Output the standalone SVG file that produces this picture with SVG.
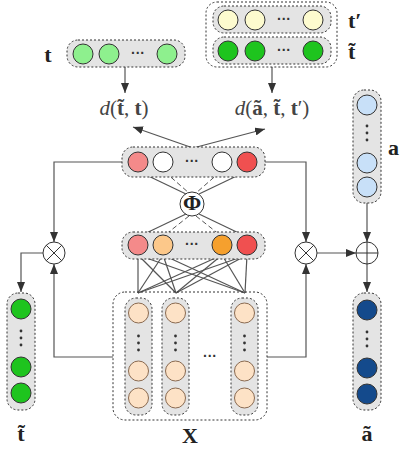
<svg xmlns="http://www.w3.org/2000/svg" width="401" height="449" viewBox="0 0 401 449">
<style>
.box{fill:#e4e4e4;stroke:#333;stroke-width:1;stroke-dasharray:2 2}
.outer{fill:none;stroke:#333;stroke-width:1;stroke-dasharray:2 2}
.c{stroke:#333;stroke-width:1}
.ln{stroke:#555;stroke-width:1.2;fill:none}
.dash{stroke:#555;stroke-width:1;fill:none;stroke-dasharray:5 3}
.lbl{font-family:"Liberation Serif",serif;font-weight:bold;font-size:22px;fill:#222}
.math{font-family:"Liberation Serif",serif;font-size:21px;fill:#444}
.dots{font-family:"Liberation Sans",sans-serif;font-size:14px;fill:#333;font-weight:bold}
.vd{fill:#333}
.op{fill:#fff;stroke:#333;stroke-width:1}
</style>
<defs>
<marker id="ar" markerWidth="10" markerHeight="8" refX="10" refY="4" orient="auto" markerUnits="userSpaceOnUse">
<path d="M0,0 L10,4 L0,8 Z" fill="#333"/>
</marker>
</defs>

<g id="connectors">
<line class="ln" x1="125" y1="67" x2="125" y2="93" marker-end="url(#ar)"/>
<line class="ln" x1="272" y1="67" x2="272" y2="93" marker-end="url(#ar)"/>
<line class="ln" x1="193" y1="148" x2="133" y2="127" marker-end="url(#ar)"/>
<line class="ln" x1="193" y1="148" x2="265" y2="129" marker-end="url(#ar)"/>
<line class="ln" x1="140" y1="172" x2="186" y2="194"/>
<line class="dash" x1="165" y1="172" x2="189" y2="193"/>
<line class="dash" x1="220" y1="172" x2="196" y2="193"/>
<line class="ln" x1="245" y1="172" x2="199" y2="194"/>
<line class="ln" x1="186" y1="214" x2="140" y2="236"/>
<line class="dash" x1="189" y1="216" x2="165" y2="235"/>
<line class="dash" x1="196" y1="216" x2="220" y2="235"/>
<line class="ln" x1="199" y1="214" x2="245" y2="236"/>
<g>
<line class="ln" x1="138" y1="255" x2="138" y2="293"/>
<line class="ln" x1="138" y1="255" x2="176" y2="293"/>
<line class="ln" x1="138" y1="255" x2="245" y2="293"/>
<line class="ln" x1="163" y1="255" x2="138" y2="293"/>
<line class="ln" x1="163" y1="255" x2="176" y2="293"/>
<line class="ln" x1="163" y1="255" x2="245" y2="293"/>
<line class="ln" x1="222" y1="255" x2="138" y2="293"/>
<line class="ln" x1="222" y1="255" x2="176" y2="293"/>
<line class="ln" x1="222" y1="255" x2="245" y2="293"/>
<line class="ln" x1="247" y1="255" x2="138" y2="293"/>
<line class="ln" x1="247" y1="255" x2="176" y2="293"/>
<line class="ln" x1="247" y1="255" x2="245" y2="293"/>
</g>
<path class="ln" d="M122,162 H54 V242" marker-end="url(#ar)"/>
<path class="ln" d="M43,253 H21 V292" marker-end="url(#ar)"/>
<path class="ln" d="M113,357 H54 V264" marker-end="url(#ar)"/>
<path class="ln" d="M265,162 H306 V242" marker-end="url(#ar)"/>
<path class="ln" d="M267,357 H306 V264" marker-end="url(#ar)"/>
<path class="ln" d="M317,253 H356" marker-end="url(#ar)"/>
<path class="ln" d="M367,203 V242" marker-end="url(#ar)"/>
<path class="ln" d="M367,264 V292" marker-end="url(#ar)"/>
</g>

<g id="t-row">
<rect class="box" x="67" y="40" width="118" height="27" rx="11"/>
<circle class="c" cx="83" cy="54" r="10" fill="#8ef08e"/>
<circle class="c" cx="109" cy="54" r="10" fill="#8ef08e"/>
<text class="dots" x="138" y="58" text-anchor="middle">···</text>
<circle class="c" cx="167" cy="54" r="10" fill="#8ef08e"/>
<text class="lbl" x="48" y="62" text-anchor="middle">t</text>
</g>

<g id="tprime-ttilde">
<rect class="outer" x="206" y="2" width="131" height="65" rx="11"/>
<rect class="box" x="213" y="6" width="118" height="27" rx="11"/>
<rect class="box" x="213" y="37" width="118" height="27" rx="11"/>
<circle class="c" cx="228" cy="20" r="10" fill="#fdfbcf"/>
<circle class="c" cx="255" cy="20" r="10" fill="#fdfbcf"/>
<text class="dots" x="284" y="24" text-anchor="middle">···</text>
<circle class="c" cx="313" cy="20" r="10" fill="#fdfbcf"/>
<circle class="c" cx="228" cy="51" r="10" fill="#1ec41e"/>
<circle class="c" cx="255" cy="51" r="10" fill="#1ec41e"/>
<text class="dots" x="284" y="55" text-anchor="middle">···</text>
<circle class="c" cx="313" cy="51" r="10" fill="#1ec41e"/>
<text class="lbl" x="348" y="28">t′</text>
<text class="lbl" x="348" y="59">t̃</text>
</g>

<g id="d1">
<text class="math" x="124" y="115" text-anchor="middle"><tspan font-style="italic">d</tspan>(<tspan font-weight="bold">t̃</tspan>, <tspan font-weight="bold">t</tspan>)</text>
</g>
<g id="d2">
<text class="math" x="272" y="115" text-anchor="middle"><tspan font-style="italic">d</tspan>(<tspan font-weight="bold">ã</tspan>, <tspan font-weight="bold">t̃</tspan>, <tspan font-weight="bold">t</tspan>′)</text>
</g>

<g id="top-layer">
<rect class="box" x="122" y="147" width="143" height="30" rx="11"/>
<circle class="c" cx="138" cy="162" r="10" fill="#f48a8a"/>
<circle class="c" cx="163" cy="162" r="10" fill="#ffffff"/>
<text class="dots" x="192" y="166" text-anchor="middle">···</text>
<circle class="c" cx="222" cy="162" r="10" fill="#ffffff"/>
<circle class="c" cx="247" cy="162" r="10" fill="#f05050"/>
</g>

<g id="phi">
<circle class="op" cx="192" cy="204" r="12"/>
<text class="lbl" x="192" y="210" font-size="16" text-anchor="middle">Φ</text>
</g>

<g id="lower-layer">
<rect class="box" x="122" y="232" width="143" height="27" rx="11"/>
<circle class="c" cx="138" cy="245" r="10" fill="#f48a8a"/>
<circle class="c" cx="163" cy="245" r="10" fill="#fcc88a"/>
<text class="dots" x="192" y="249" text-anchor="middle">···</text>
<circle class="c" cx="222" cy="245" r="10" fill="#f5a02e"/>
<circle class="c" cx="247" cy="245" r="10" fill="#f05050"/>
</g>

<g id="X">
<rect class="outer" x="113" y="292" width="154" height="128" rx="12"/>
<rect class="box" x="125" y="298" width="27" height="117" rx="11"/>
<rect class="box" x="162" y="298" width="27" height="117" rx="11"/>
<rect class="box" x="231" y="298" width="27" height="117" rx="11"/>
<g fill="#fde2c6" stroke="#8a6a50" stroke-width="1">
<circle cx="138.5" cy="313" r="10"/><circle cx="138.5" cy="371" r="10"/><circle cx="138.5" cy="398" r="10"/>
<circle cx="175.5" cy="313" r="10"/><circle cx="175.5" cy="371" r="10"/><circle cx="175.5" cy="398" r="10"/>
<circle cx="244.5" cy="313" r="10"/><circle cx="244.5" cy="371" r="10"/><circle cx="244.5" cy="398" r="10"/>
</g>
<g class="vd">
<circle cx="138.5" cy="336" r="1.4"/><circle cx="138.5" cy="343" r="1.4"/><circle cx="138.5" cy="350" r="1.4"/>
<circle cx="175.5" cy="336" r="1.4"/><circle cx="175.5" cy="343" r="1.4"/><circle cx="175.5" cy="350" r="1.4"/>
<circle cx="244.5" cy="336" r="1.4"/><circle cx="244.5" cy="343" r="1.4"/><circle cx="244.5" cy="350" r="1.4"/>
</g>
<text class="dots" x="210" y="361" text-anchor="middle">···</text>
<text class="lbl" x="190" y="443" font-size="20" text-anchor="middle">X</text>
</g>

<g id="ttilde-col">
<rect class="box" x="7" y="293" width="28" height="117" rx="11"/>
<circle class="c" cx="21" cy="309" r="10" fill="#1ec41e"/>
<circle class="c" cx="21" cy="367" r="10" fill="#1ec41e"/>
<circle class="c" cx="21" cy="393" r="10" fill="#1ec41e"/>
<g class="vd"><circle cx="21" cy="331" r="1.4"/><circle cx="21" cy="338" r="1.4"/><circle cx="21" cy="345" r="1.4"/></g>
<text class="lbl" x="21" y="441" text-anchor="middle">t̃</text>
</g>

<g id="a-col">
<rect class="box" x="353" y="90" width="28" height="113" rx="11"/>
<circle class="c" cx="367" cy="105" r="10" fill="#c8e0f8"/>
<circle class="c" cx="367" cy="163" r="10" fill="#c8e0f8"/>
<circle class="c" cx="367" cy="187" r="10" fill="#c8e0f8"/>
<g class="vd"><circle cx="367" cy="126" r="1.4"/><circle cx="367" cy="133" r="1.4"/><circle cx="367" cy="140" r="1.4"/></g>
<text class="lbl" x="388" y="155">a</text>
</g>

<g id="atilde-col">
<rect class="box" x="353" y="293" width="28" height="117" rx="11"/>
<circle class="c" cx="367" cy="310" r="10" fill="#144a8c"/>
<circle class="c" cx="367" cy="368" r="10" fill="#144a8c"/>
<circle class="c" cx="367" cy="394" r="10" fill="#144a8c"/>
<g class="vd"><circle cx="367" cy="332" r="1.4"/><circle cx="367" cy="339" r="1.4"/><circle cx="367" cy="346" r="1.4"/></g>
<text class="lbl" x="367" y="441" text-anchor="middle">ã</text>
</g>

<g id="otimes-left">
<circle class="op" cx="54" cy="253" r="11"/>
<path class="c" d="M46.2,245.2 L61.8,260.8 M61.8,245.2 L46.2,260.8"/>
</g>
<g id="otimes-right">
<circle class="op" cx="306" cy="253" r="11"/>
<path class="c" d="M298.2,245.2 L313.8,260.8 M313.8,245.2 L298.2,260.8"/>
</g>
<g id="oplus">
<circle class="op" cx="367" cy="253" r="11"/>
<path class="c" d="M356,253 H378 M367,242 V264"/>
</g>
</svg>
